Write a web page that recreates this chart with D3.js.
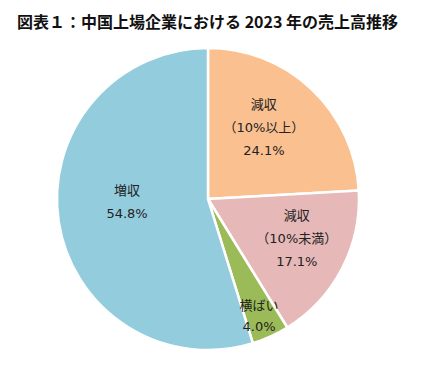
<!DOCTYPE html>
<html>
<head>
<meta charset="utf-8">
<script src="https://cdn.jsdelivr.net/npm/d3@7"></script>
<style>
  body { margin: 0; background: #fff; }
  text { font-family: "Noto Sans CJK JP", "Noto Sans", sans-serif; }
  text.lbl { font-family: "DejaVu Sans", "Noto Sans CJK JP", sans-serif; }
</style>
</head>
<body>
<svg width="430" height="380"></svg>
<script>
// 売上高推移の構成比（%）
const categories = ["減収\n（10%以上）", "減収\n（10%未満）", "横ばい", "増収"];
const values = [24.1, 17.1, 4.0, 54.8];
const colors = ["#FAC090", "#E6B9B8", "#9BBB59", "#93CDDD"];

const svg = d3.select("svg"),
    width = +svg.attr("width"),
    height = +svg.attr("height");

svg.append("text")
    .attr("x", 17)
    .attr("y", 28)
    .attr("font-size", 16)
    .attr("font-weight", "bold")
    .attr("fill", "#111")
    .text("図表１：中国上場企業における 2023 年の売上高推移");

const cx = 208, cy = 199, radius = 151;

const pie = d3.pie().sort(null).value(d => d.value);
const arc = d3.arc().innerRadius(0).outerRadius(radius);

const data = categories.map((c, i) => ({label: c, value: values[i], color: colors[i]}));
const arcs = pie(data);

const g = svg.append("g").attr("transform", `translate(${cx},${cy})`);

g.selectAll("path")
    .data(arcs)
    .enter().append("path")
    .attr("d", arc)
    .attr("fill", d => d.data.color)
    .attr("stroke", "#fff")
    .attr("stroke-width", 2.5);

// ラベル位置（中心からの距離と角度のずれ）
const labelRadius = [91, 97, 128, 81];
const angleShift = [-5.5, -3.8, 1.0, 6.6];

const label = g.selectAll("g.label")
    .data(arcs)
    .enter().append("g")
    .classed("label", true)
    .attr("transform", function (d, i) {
        const a = (d.startAngle + d.endAngle) / 2 + angleShift[i] * Math.PI / 180;
        const x = Math.sin(a) * labelRadius[i];
        const y = -Math.cos(a) * labelRadius[i];
        return `translate(${x},${y})`;
    });

label.each(function (d) {
    const lines = d.data.label.split("\n").concat([d.data.value.toFixed(1) + "%"]);
    const step = d.index === 2 ? 21 : 23;
    const t = d3.select(this).append("text")
        .classed("lbl", true)
        .attr("text-anchor", "middle")
        .attr("font-size", 13)
        .attr("fill", "#222");
    lines.forEach(function (s, k) {
        t.append("tspan")
            .attr("x", 0)
            .attr("y", (k - (lines.length - 1) / 2) * step)
            .attr("dy", "0.35em")
            .text(s);
    });
});
</script>
</body>
</html>
